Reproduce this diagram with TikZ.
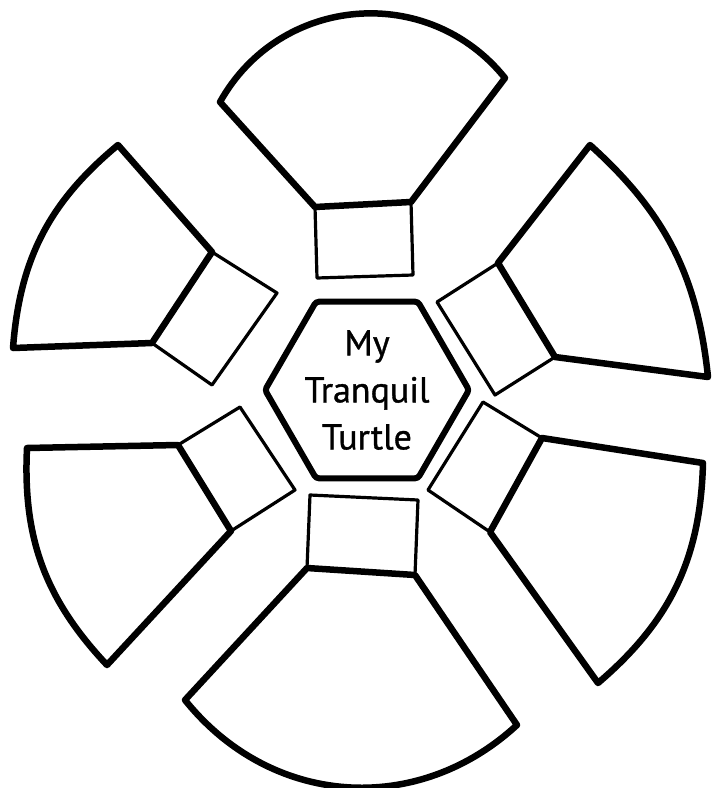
\documentclass[tikz,border=0pt]{standalone}
\usepackage{fontspec}
\newfontfamily\shellfont[FakeBold=1]{PT Sans}
\usetikzlibrary{shapes.geometric}

\tikzset{
  plate/.style={line width=6.5pt,line join=round},
  pad/.style={line width=3.2pt,line join=round},
  shell/.style={draw,regular polygon,regular polygon sides=6,minimum size=203pt,
    line width=6pt,rounded corners=3pt,inner sep=0pt,align=center,
    font=\shellfont\fontsize{36}{47}\selectfont},
}

\begin{document}
\begin{tikzpicture}[x=1pt,y=-1pt]
  \useasboundingbox (0,0) rectangle (720,788);
  % centre of the shell
  \node[shell] (centre) at (367,390) {My\\Tranquil\\Turtle};

  % inner corners shared by pads and plates
  \coordinate (nA) at (315,207);  \coordinate (nB) at (411,202);
  \coordinate (neA) at (498,263); \coordinate (neB) at (555,357);
  \coordinate (seA) at (542,438); \coordinate (seB) at (490,532);
  \coordinate (sA) at (415,575);  \coordinate (sB) at (307,568);
  \coordinate (swA) at (231,531); \coordinate (swB) at (178,445);
  \coordinate (nwA) at (152,343); \coordinate (nwB) at (212,252);

  % pads round the centre
  \draw[pad] (nA) -- (nB) -- (413,275) -- (317,278) -- cycle;
  \draw[pad] (neA) -- (neB) -- (495,395) -- (437,302) -- cycle;
  \draw[pad] (seA) -- (seB) -- (428,490) -- (483,402) -- cycle;
  \draw[pad] (sB) -- (310,495) -- (418,500) -- (sA) -- cycle;
  \draw[pad] (swB) -- (240,407) -- (295,490) -- (swA) -- cycle;
  \draw[pad] (nwB) -- (277,293) -- (212,385) -- (nwA) -- cycle;

  % outer plates
  \draw[plate] (nA) -- (220,102) to[bend left=56,looseness=1.1] (505,78) -- (nB) -- cycle;
  \draw[plate] (neA) -- (590,145) to[bend left=21] (708,377) -- (neB) -- cycle;
  \draw[plate] (seA) -- (703,463) to[bend left=24] (598,683) -- (seB) -- cycle;
  \draw[plate] (sA) -- (517,725) to[bend left=47,looseness=1.05] (185,700) -- (sB) -- cycle;
  \draw[plate] (swA) -- (107,665) to[bend left=23] (27,448) -- (swB) -- cycle;
  \draw[plate] (nwA) -- (13,348) to[bend left=23] (118,145) -- (nwB) -- cycle;
\end{tikzpicture}
\end{document}
